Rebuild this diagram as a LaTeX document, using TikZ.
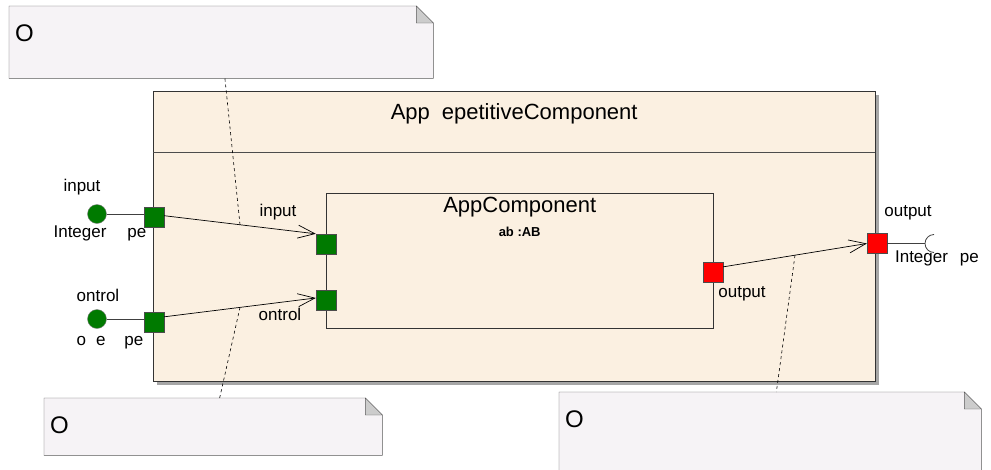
\documentclass[tikz,border=0pt]{standalone}
\usepackage{fontspec}
\setmainfont{Liberation Sans}
\usetikzlibrary{arrows.meta,positioning,backgrounds,shadows}

\definecolor{compbeige}{RGB}{251,240,225}
\definecolor{notelilac}{RGB}{246,243,246}
\definecolor{portgreen}{RGB}{0,122,0}
\definecolor{portred}{RGB}{255,0,0}

\begin{document}
\begin{tikzpicture}[
    x=1pt, y=-1pt,
    comp/.style={rectangle, draw=black!80, fill=compbeige, anchor=north west, inner sep=0pt},
    port/.style={rectangle, draw=black!70, minimum size=20pt, inner sep=0pt},
    inport/.style={port, fill=portgreen},
    outport/.style={port, fill=portred},
    ball/.style={circle, draw=gray, fill=portgreen, minimum size=19pt, inner sep=0pt},
    lbl/.style={inner sep=0pt, font=\fontsize{17}{20}\selectfont},
    title/.style={inner sep=0pt, font=\fontsize{22}{26}\selectfont},
    note/.style={rectangle, anchor=north west, inner sep=0pt},
    notetext/.style={anchor=north west, inner sep=0pt, xshift=6pt, yshift=-19pt, font=\fontsize{24}{28}\selectfont},
    notebody/.style={draw=black!65, fill=notelilac},
    notefold/.style={draw=black!65, fill=black!20},
    flow/.style={-{Straight Barb[length=17pt,width=13pt]}, line width=0.7pt},
    wire/.style={draw=black!75, line width=0.8pt},
    noteline/.style={dashed, line width=0.6pt}
]
    \useasboundingbox (0,0) rectangle (991,469);

    % components
    \node[comp, minimum width=722pt, minimum height=290pt,
          drop shadow={shadow xshift=4pt, shadow yshift=-4pt, fill=black!35, opacity=1}] (repComp) at (153,91) {};
    \node[title, below=12pt of repComp.north] (repTitle) {App\hspace{12pt}epetitiveComponent};
    \draw[black!70, line width=1pt] ([yshift=-61pt]repComp.north west) -- ([yshift=-61pt]repComp.north east);

    \node[comp, minimum width=387pt, minimum height=135pt] (appComp) at (326,193) {};
    \node[title, below=4pt of appComp.north] (appTitle) {AppComponent};
    \node[inner sep=0pt, font=\fontsize{13}{15}\selectfont\bfseries, below=10pt of appTitle] (appPart) {ab :AB};

    % notes
    \node[note, minimum width=424pt, minimum height=72pt, label={[notetext]north west:O}] (noteTop) at (9,6) {};
    \node[note, minimum width=338pt, minimum height=57pt, label={[notetext]north west:O}] (noteLeft) at (44,398) {};
    \node[note, minimum width=422pt, minimum height=90pt, label={[notetext]north west:O}] (noteRight) at (559,392) {};
    \begin{scope}[on background layer]
        \foreach \n in {noteTop,noteLeft,noteRight} {
            \draw[notebody] (\n.north west) -- ([xshift=-17pt]\n.north east) -- ([yshift=-17pt]\n.north east)
                -- (\n.south east) -- (\n.south west) -- cycle;
            \draw[notefold] ([xshift=-17pt]\n.north east) -- ([xshift=-17pt,yshift=-17pt]\n.north east)
                -- ([yshift=-17pt]\n.north east) -- cycle;
        }
    \end{scope}

    % ports
    \node[inport] (outIn) at (154,217.5) {};
    \node[inport] (outCtl) at (154,322) {};
    \node[inport] (inIn) at (326,244) {};
    \node[inport] (inCtl) at (326,300.5) {};
    \node[outport] (inOut) at (713,272.5) {};
    \node[outport] (outOut) at (877,243.5) {};
    \node[ball] (ballIn) at (97,214) {};
    \node[ball] (ballCtl) at (97,319) {};
    \coordinate (outSock) at (925,243.5);

    % connectors
    \draw[flow] (outIn.10) -- coordinate[pos=0.5] (conIn) (inIn.north west);
    \draw[flow] (outCtl.27) -- coordinate[pos=0.5] (conCtl) (inCtl.166);
    \draw[flow] (inOut.29) -- coordinate[pos=0.5] (conOut) (outOut.west);
    \draw[wire] (ballIn.east) -- (ballIn.east -| outIn.west);
    \draw[wire] (ballCtl.east) -- (ballCtl.east -| outCtl.west);
    \draw[wire] (outOut.east) -- (outSock);
    \draw[wire] ([shift={(9pt,9pt)}]outSock) arc[start angle=90, end angle=270, radius=9pt];

    \draw[noteline] (conIn) -- (noteTop);
    \draw[noteline] (conCtl) -- (noteLeft);
    \draw[noteline] (conOut) -- (noteRight);

    % labels
    \node[lbl] (lblBallIn) at (82,187) {input};
    \node[lbl] (lblTypeIn) at (100,233) {Integer\hspace{21pt}pe};
    \node[lbl] (lblBallCtl) at (98,295) {ontrol};
    \node[lbl] (lblTypeCtl) at (110,343) {o\hspace{10pt}e\hspace{19pt}pe};
    \node[lbl] (lblIn) at (278,212) {input};
    \node[lbl] (lblCtl) at (280,314) {ontrol};
    \node[lbl] (lblOut) at (742,294) {output};
    \node[lbl] (lblOutOut) at (908,213) {output};
    \node[lbl] (lblTypeOut) at (937,258) {Integer\hspace{12pt}pe};
\end{tikzpicture}
\end{document}
